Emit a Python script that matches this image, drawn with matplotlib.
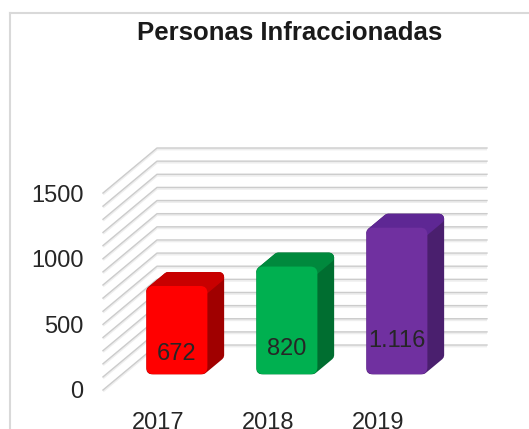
# Personas Infraccionadas - 3D style column chart (Excel look)

import matplotlib
matplotlib.use("Agg")
import matplotlib.pyplot as plt
from matplotlib.patches import Polygon, FancyBboxPatch
from matplotlib.lines import Line2D

plt.rcParams["font.family"] = ["Liberation Sans", "DejaVu Sans"]

years = ["2017", "2018", "2019"]
values = [672, 820, 1116]
labels = ["672", "820", "1.116"]
yticks = [0, 500, 1000, 1500]
grid_vals = list(range(0, 1600, 100))
front_cols = ["#ff0000", "#00b050", "#7030a0"]
top_cols = ["#c80000", "#00893d", "#5e2794"]
side_cols = ["#a00000", "#006e30", "#4a1f6e"]

W, H = 529, 429
fig = plt.figure(figsize=(W / 100, H / 100), dpi=100)

# front plane of the 3D box, in pixels
left, right, bottom, top = 103, 433, 390, 193
ax = fig.add_axes([left / W, (H - bottom) / H, (right - left) / W, (bottom - top) / H])
ax.set_xlim(-0.5, 2.5)
ax.set_ylim(0, 1500)
ax.patch.set_visible(False)
for s in ax.spines.values():
    s.set_visible(False)

KX = (right - left) / 3.0       # px per category
KY = (bottom - top) / 1500.0    # px per value unit
DX, DY = 54 / KX, 45 / KY       # depth of the box, data units

# walls: left diagonal + back horizontal for each gridline
for g in grid_vals:
    xs = [-0.5, -0.5 + DX, 2.5 + DX]
    ys = [g, g + DY, g + DY]
    ax.plot(xs, [y - 1.3 / KY for y in ys], color="#eeeeee", lw=1.6,
            clip_on=False, solid_capstyle="butt", zorder=1)
    ax.plot(xs, ys, color="#cccccc", lw=1.0, clip_on=False, zorder=1.1)

# bars
bw = 61 / KX
f, b = 0.35, 0.66
r = 5.0
rx, ry = r / KX, r / KY
ddx, ddy = (b - f) * DX, (b - f) * DY
for i, v in enumerate(values):
    x0 = i - bw / 2 + f * DX
    x1 = x0 + bw
    y0 = f * DY
    y1 = v + f * DY
    sil = [(x0 + rx, y0 + ry), (x1 - rx, y0 + ry), (x1 + ddx - rx, y0 + ddy + ry),
           (x1 + ddx - rx, y1 + ddy - ry), (x0 + ddx + rx, y1 + ddy - ry), (x0 + rx, y1 - ry)]
    ax.add_patch(Polygon(sil, closed=True, fc=side_cols[i], ec=side_cols[i],
                         lw=2 * r * 0.72, joinstyle="round", clip_on=False, zorder=3))
    topf = [(x0 + rx, y1 - ry), (x1 - rx, y1 - ry), (x1 + ddx - rx, y1 + ddy - ry),
            (x0 + ddx + rx, y1 + ddy - ry)]
    ax.add_patch(Polygon(topf, closed=True, fc=top_cols[i], ec=top_cols[i],
                         lw=2 * r * 0.72, joinstyle="round", clip_on=False, zorder=3.1))
    ax.add_patch(FancyBboxPatch((x0, y0), bw, v,
                                boxstyle="round,pad=0,rounding_size=%f" % (7 / KX),
                                mutation_aspect=KX / KY, fc=front_cols[i], ec="none",
                                clip_on=False, zorder=3.2))
    ax.text(i + f * DX, y0 + 0.23 * v, labels[i], ha="center", va="center",
            fontsize=17, color="#262626", zorder=4)

ax.set_yticks(yticks)
ax.set_xticks(range(len(years)), years)
ax.tick_params(axis="y", length=0, pad=14, labelsize=17, labelcolor="#262626")
ax.tick_params(axis="x", length=0, pad=16, labelsize=17, labelcolor="#262626")

fig.text(290 / W, 1 - 33 / H, "Personas Infraccionadas", ha="center", va="center",
         fontsize=18.5, fontweight="bold", color="#1a1a1a")

# chart border (partly cropped)
fig.add_artist(Line2D([10 / W, 1], [1 - 13 / H, 1 - 13 / H], color="#d9d9d9", lw=1.5))
fig.add_artist(Line2D([10 / W, 10 / W], [0, 1 - 13 / H], color="#d9d9d9", lw=1.5))

fig.savefig("out.png", dpi=100)
